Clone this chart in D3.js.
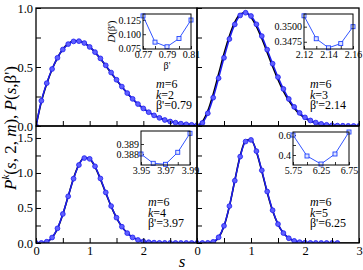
<!DOCTYPE html>
<html>
<head>
<meta charset="utf-8">
<script src="https://cdn.jsdelivr.net/npm/d3@7"></script>
<style>
  body { margin: 0; background: #fff; }
  svg, svg text { font-family: 'Liberation Serif', 'Times New Roman', serif; }
</style>
</head>
<body>
<svg width="363" height="270"></svg>
<script>
// spacing values s
const sVals = [0, 0.1, 0.2, 0.3, 0.4, 0.5, 0.6, 0.7, 0.8, 0.9, 1.0, 1.1, 1.2, 1.3, 1.4, 1.5,
  1.6, 1.7, 1.8, 1.9, 2.0, 2.1, 2.2, 2.3, 2.4, 2.5, 2.6, 2.7, 2.8, 2.9, 3.0];

// k = 2, beta' = 0.79
const fitK2 = [0, 0.214, 0.363, 0.483, 0.578, 0.648, 0.694, 0.717, 0.719, 0.703, 0.670, 0.626, 0.573,
  0.514, 0.453, 0.392, 0.334, 0.279, 0.230, 0.186, 0.149, 0.117, 0.090, 0.069, 0.051, 0.038, 0.028,
  0.020, 0.014, 0.010, 0.007];
const theoryK2 = [0, 0.205, 0.357, 0.481, 0.578, 0.650, 0.697, 0.720, 0.721, 0.703, 0.670, 0.624, 0.570,
  0.511, 0.450, 0.390, 0.332, 0.278, 0.229, 0.186, 0.149, 0.117, 0.091, 0.070, 0.053, 0.039, 0.029,
  0.021, 0.015, 0.010, 0.007];

// k = 3, beta' = 2.14
const fitK3 = [0, 0.026, 0.108, 0.240, 0.405, 0.578, 0.737, 0.861, 0.937, 0.960, 0.932, 0.862, 0.762,
  0.647, 0.528, 0.414, 0.314, 0.229, 0.162, 0.111, 0.073, 0.047, 0.029, 0.018, 0.010, 0.006, 0.003,
  0.002, 0.001, 0.0004, 0.0002];
const theoryK3 = [0, 0.036, 0.128, 0.270, 0.440, 0.612, 0.763, 0.880, 0.948, 0.962, 0.921, 0.845, 0.741,
  0.624, 0.505, 0.393, 0.296, 0.215, 0.151, 0.102, 0.067, 0.043, 0.026, 0.015, 0.009, 0.005, 0.003,
  0.001, 0.001, 0.0003, 0.0001];

// k = 4, beta' = 3.97
const fitK4 = [0, 0.001, 0.018, 0.078, 0.209, 0.414, 0.667, 0.919, 1.114, 1.213, 1.202, 1.095, 0.922,
  0.722, 0.528, 0.362, 0.233, 0.141, 0.080, 0.043, 0.022, 0.011, 0.005, 0.002, 0.001, 0.0003, 0.0001,
  0, 0, 0, 0];
const theoryK4 = [0, 0.001, 0.016, 0.074, 0.203, 0.410, 0.668, 0.925, 1.122, 1.218, 1.200, 1.088, 0.913,
  0.714, 0.523, 0.360, 0.234, 0.143, 0.083, 0.046, 0.024, 0.012, 0.006, 0.003, 0.001, 0, 0,
  0, 0, 0, 0];

// k = 5, beta' = 6.25
const fitK5 = [0, 0, 0.002, 0.017, 0.082, 0.245, 0.527, 0.890, 1.234, 1.449, 1.472, 1.312, 1.038,
  0.735, 0.468, 0.270, 0.142, 0.068, 0.030, 0.012, 0.004, 0.0015, 0.0005, 0.0001, 0, 0, 0];
const theoryK5 = [0, 0, 0.001, 0.014, 0.076, 0.238, 0.523, 0.893, 1.245, 1.462, 1.478, 1.305, 1.025,
  0.722, 0.460, 0.267, 0.142, 0.070, 0.032, 0.013, 0.005, 0.002, 0.001, 0, 0, 0, 0, 0, 0, 0, 0];

// insets: D(beta') against beta'
const insetK2Beta = [0.77, 0.78, 0.79, 0.80, 0.81];
const insetK2D = [0.132, 0.0861, 0.078, 0.0924, 0.1248];
const insetK3Beta = [2.12, 2.13, 2.14, 2.15, 2.16];
const insetK3D = [0.3518, 0.3480, 0.3465, 0.3472, 0.3500];
const insetK4Beta = [3.95, 3.96, 3.97, 3.98, 3.99];
const insetK4D = [0.3880, 0.38707, 0.38697, 0.38817, 0.39007];
const insetK5Beta = [5.75, 6.0, 6.25, 6.5, 6.75];
const insetK5D = [0.60, 0.39, 0.31, 0.41, 0.63];

// tick labels
const xTickVals = [0, 0.5, 1, 1.5, 2, 2.5, 3];
const topYTicks = [0, 0.25, 0.5, 0.75, 1.0];
const botYTicks = [0, 0.25, 0.5, 0.75, 1.0, 1.25, 1.5];

const svg = d3.select("svg");
const blue = "#1c1cf0";
const serif = "'Liberation Serif', 'Times New Roman', serif";

const cols = [[36, 197], [197, 359]];
const rows = [[8, 126], [126, 243]];
const rowMax = [1.0, 1.671];

const panels = [
  { col: 0, row: 0, k: 2, beta: "0.79", fit: fitK2, theory: theoryK2, yTicks: topYTicks,
    yLabels: [0, 0.5, 1.0], xLabels: null, textX: 156,
    inset: { box: [143, 191, 14, 49], xs: insetK2Beta, ys: insetK2D, xDom: [0.77, 0.81], yDom: [0.0741, 0.1353],
      xTicks: insetK2Beta, xLab: [0.77, 0.79, 0.81], xFmt: ".2f", yTicks: [0.075, 0.1, 0.125], yFmt: ".3f", titles: true } },
  { col: 1, row: 0, k: 3, beta: "2.14", fit: fitK3, theory: theoryK3, yTicks: topYTicks,
    yLabels: null, xLabels: null, textX: 310,
    inset: { box: [304, 353, 14, 49], xs: insetK3Beta, ys: insetK3D, xDom: [2.12, 2.16], yDom: [0.3463, 0.3521],
      xTicks: insetK3Beta, xLab: [2.12, 2.14, 2.16], xFmt: ".2f", yTicks: [0.3475, 0.35], yFmt: ".4f", titles: false } },
  { col: 0, row: 1, k: 4, beta: "3.97", fit: fitK4, theory: theoryK4, yTicks: botYTicks,
    yLabels: [0, 0.5, 1.0, 1.5], xLabels: [0, 1, 2], textX: 148,
    inset: { box: [141, 190, 131, 165], xs: insetK4Beta, ys: insetK4D, xDom: [3.95, 3.99], yDom: [0.3869, 0.3903],
      xTicks: insetK4Beta, xLab: [3.95, 3.97, 3.99], xFmt: ".2f", yTicks: [0.388, 0.389], yFmt: ".3f", titles: false } },
  { col: 1, row: 1, k: 5, beta: "6.25", fit: fitK5, theory: theoryK5, yTicks: botYTicks,
    yLabels: null, xLabels: [0, 1, 2, 3], textX: 310,
    inset: { box: [293, 349, 132, 165], xs: insetK5Beta, ys: insetK5D, xDom: [5.75, 6.75], yDom: [0.30, 0.63],
      xTicks: insetK5Beta, xLab: [5.75, 6.25, 6.75], xFmt: ".2f", yTicks: [0.4, 0.5, 0.6], yLab: [0.4, 0.6], yFmt: ".1f", titles: false } }
];

const has = (arr, d) => arr && arr.some(v => Math.abs(v - d) < 1e-9);

panels.forEach((p, i) => {
  const [x0, x1] = cols[p.col];
  const [y0, y1] = rows[p.row];
  const x = d3.scaleLinear().domain([0, 3]).range([x0, x1]);
  const y = d3.scaleLinear().domain([0, rowMax[p.row]]).range([y1, y0]);

  svg.append("clipPath").attr("id", "clip" + i)
    .append("rect").attr("x", x0).attr("y", y0).attr("width", x1 - x0).attr("height", y1 - y0);

  const g = svg.append("g").attr("clip-path", `url(#clip${i})`);
  const line = d3.line().x(d => x(d[0])).y(d => y(d[1])).curve(d3.curveMonotoneX);

  // theory curve (black)
  g.append("path").datum(d3.zip(sVals, p.theory))
    .attr("fill", "none").attr("stroke", "#000").attr("stroke-width", 1.6)
    .attr("d", line);
  // fitted curve with markers (blue)
  const pts = d3.zip(sVals, p.fit);
  g.append("path").datum(pts)
    .attr("fill", "none").attr("stroke", blue).attr("stroke-width", 1.5)
    .attr("d", line);
  g.selectAll("circle").data(pts).join("circle")
    .attr("cx", d => x(d[0])).attr("cy", d => y(d[1])).attr("r", 2.4)
    .attr("fill", "#5f5fff").attr("stroke", blue).attr("stroke-width", 0.8);

  // axes with inward ticks
  const xa = svg.append("g").attr("transform", `translate(0,${y1})`)
    .call(d3.axisBottom(x).tickValues(xTickVals).tickSizeInner(-5).tickSizeOuter(0).tickPadding(3)
      .tickFormat(d => has(p.xLabels, d) ? d3.format("d")(d) : ""));
  const ya = svg.append("g").attr("transform", `translate(${x0},0)`)
    .call(d3.axisLeft(y).tickValues(p.yTicks).tickSizeInner(-5).tickSizeOuter(0).tickPadding(3)
      .tickFormat(d => has(p.yLabels, d) ? d3.format(".1f")(d) : ""));
  [xa, ya].forEach(a => {
    a.attr("font-family", null).style("font-family", serif).attr("font-size", 12.5);
    a.select(".domain").remove();
    a.selectAll("line").attr("stroke-width", 1);
  });

  // frame
  svg.append("rect").attr("x", x0).attr("y", y0).attr("width", x1 - x0).attr("height", y1 - y0)
    .attr("fill", "none").attr("stroke", "#000").attr("stroke-width", 1.3);

  // annotation
  const t = svg.append("text").attr("font-size", 12).attr("fill", "#000");
  const l1 = t.append("tspan").attr("x", p.textX).attr("y", y0 + 80);
  l1.append("tspan").attr("font-style", "italic").text("m");
  l1.append("tspan").text("=6");
  const l2 = t.append("tspan").attr("x", p.textX).attr("y", y0 + 90.5);
  l2.append("tspan").attr("font-style", "italic").text("k");
  l2.append("tspan").text("=" + p.k);
  t.append("tspan").attr("x", p.textX).attr("y", y0 + 101).text("β'=" + p.beta);

  drawInset(p.inset);
});

function drawInset(ins) {
  const [bx0, bx1, by0, by1] = ins.box;
  const ix = d3.scaleLinear().domain(ins.xDom).range([bx0, bx1]);
  const iy = d3.scaleLinear().domain(ins.yDom).range([by1, by0]);
  svg.append("rect").attr("x", bx0).attr("y", by0).attr("width", bx1 - bx0).attr("height", by1 - by0)
    .attr("fill", "#fff");

  const xa = svg.append("g").attr("transform", `translate(0,${by1})`)
    .call(d3.axisBottom(ix).tickValues(ins.xTicks).tickSizeInner(-3).tickSizeOuter(0).tickPadding(2)
      .tickFormat(d => has(ins.xLab, d) ? d3.format(ins.xFmt)(d) : ""));
  const ya = svg.append("g").attr("transform", `translate(${bx0},0)`)
    .call(d3.axisLeft(iy).tickValues(ins.yTicks).tickSizeInner(-3).tickSizeOuter(0).tickPadding(2)
      .tickFormat(d => (!ins.yLab || has(ins.yLab, d)) ? d3.format(ins.yFmt)(d) : ""));
  [xa, ya].forEach(a => {
    a.attr("font-family", null).style("font-family", serif).attr("font-size", 10);
    a.select(".domain").remove();
    a.selectAll("line").attr("stroke-width", 0.8);
  });

  const pts = d3.zip(ins.xs, ins.ys);
  svg.append("path").datum(pts)
    .attr("fill", "none").attr("stroke", "#3355ff").attr("stroke-width", 1)
    .attr("d", d3.line().x(d => ix(d[0])).y(d => iy(d[1])));
  svg.append("g").selectAll("rect").data(pts).join("rect")
    .attr("x", d => ix(d[0]) - 2).attr("y", d => iy(d[1]) - 2)
    .attr("width", 4).attr("height", 4)
    .attr("fill", "#dfe4ff").attr("stroke", "#2244ff").attr("stroke-width", 0.9);

  svg.append("rect").attr("x", bx0).attr("y", by0).attr("width", bx1 - bx0).attr("height", by1 - by0)
    .attr("fill", "none").attr("stroke", "#000").attr("stroke-width", 1);

  if (ins.titles) {
    svg.append("text").attr("x", (bx0 + bx1) / 2).attr("y", by1 + 20)
      .attr("text-anchor", "middle").attr("font-size", 10).text("β'");
    const d = svg.append("text").attr("transform", `translate(${bx0 - 28},${(by0 + by1) / 2}) rotate(-90)`)
      .attr("text-anchor", "middle").attr("font-size", 10.5);
    d.append("tspan").attr("font-style", "italic").text("D");
    d.append("tspan").text("(β')");
  }
}

// y axis title
const yt = svg.append("text").attr("transform", "translate(16,128) rotate(-90)")
  .attr("text-anchor", "middle").attr("font-size", 17);
yt.append("tspan").attr("font-style", "italic").text("P");
yt.append("tspan").attr("font-style", "italic").attr("font-size", 11).attr("dy", -7).text("k");
yt.append("tspan").attr("dy", 7).text("(");
yt.append("tspan").attr("font-style", "italic").text("s");
yt.append("tspan").text(", 2, ");
yt.append("tspan").attr("font-style", "italic").text("m");
yt.append("tspan").text("), ");
yt.append("tspan").attr("font-style", "italic").text("P");
yt.append("tspan").text("(");
yt.append("tspan").attr("font-style", "italic").text("s");
yt.append("tspan").text(",β')");

// x axis title
svg.append("text").attr("x", 182).attr("y", 267).attr("text-anchor", "middle")
  .attr("font-size", 17).attr("font-style", "italic").text("s");
</script>
</body>
</html>
